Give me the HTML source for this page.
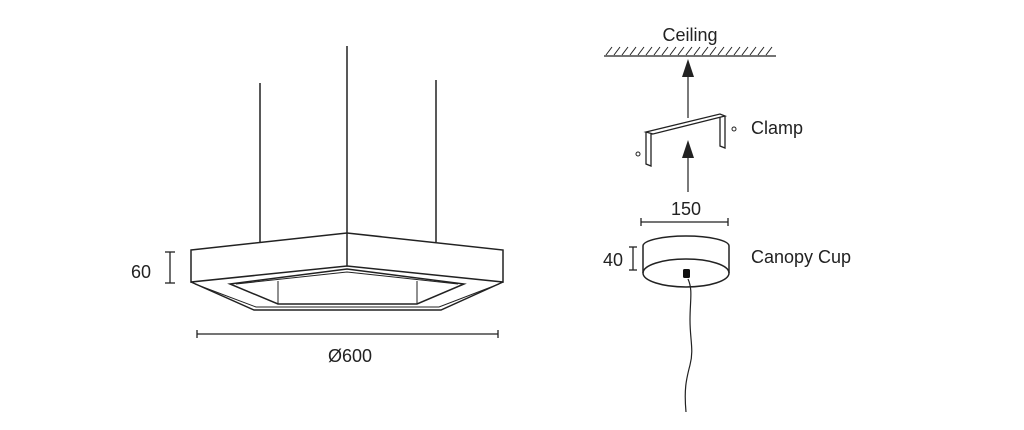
<!DOCTYPE html>
<html><head><style>body{margin:0;background:#fff}svg{display:block}text{font-family:"Liberation Sans",sans-serif;fill:#222}</style></head><body>
<svg width="1024" height="430" viewBox="0 0 1024 430" xmlns="http://www.w3.org/2000/svg">
<g stroke="#222" fill="none" stroke-width="1.5">
<line x1="260" y1="83" x2="260" y2="242"/>
<line x1="347" y1="46" x2="347" y2="233"/>
<line x1="436" y1="80" x2="436" y2="242"/>
<polygon points="191,250 347,233 503,250 503,282 347,266 191,282" fill="#fff"/>
<line x1="347" y1="233" x2="347" y2="266"/>
<path d="M191,282 L254,310 L441,310 L503,282"/>
<path d="M195,284 L256,307 L439,307 L499,284" stroke-width="1"/>
<path d="M230,284 L347,269 L464,284 L417,304 L278,304 Z"/>
<path d="M236,284 L347,272 L458,284" stroke-width="1"/>
<line x1="278" y1="281" x2="278" y2="304" stroke-width="1"/>
<line x1="417" y1="281" x2="417" y2="304" stroke-width="1"/>
<g stroke-width="1.3">
<line x1="170" y1="252" x2="170" y2="283"/><line x1="165" y1="252" x2="175" y2="252"/><line x1="165" y1="283" x2="175" y2="283"/>
<line x1="197" y1="334" x2="498" y2="334"/><line x1="197" y1="330" x2="197" y2="338"/><line x1="498" y1="330" x2="498" y2="338"/>
</g>
<line x1="604" y1="56" x2="776" y2="56" stroke-width="1.3"/>
<path d="M606,55 l6,-8 M614,55 l6,-8 M622,55 l6,-8 M630,55 l6,-8 M638,55 l6,-8 M646,55 l6,-8 M654,55 l6,-8 M662,55 l6,-8 M670,55 l6,-8 M678,55 l6,-8 M686,55 l6,-8 M694,55 l6,-8 M702,55 l6,-8 M710,55 l6,-8 M718,55 l6,-8 M726,55 l6,-8 M734,55 l6,-8 M742,55 l6,-8 M750,55 l6,-8 M758,55 l6,-8 M766,55 l6,-8" stroke-width="1"/>
<line x1="688" y1="118" x2="688" y2="72" stroke-width="1.2"/>
<line x1="688" y1="192" x2="688" y2="155" stroke-width="1.2"/>
<path d="M646,132 L720,114 L725,116 L653,134 Z M646,132 L646,164 L651,166 L651,134 M725,116 L725,148 L720,146 L720,117 M651,134 L653,134" stroke-width="1.3" fill="#fff"/>
<circle cx="638" cy="154" r="2" stroke-width="1"/><circle cx="734" cy="129" r="2" stroke-width="1"/>
<g stroke-width="1.3">
<line x1="641" y1="222" x2="728" y2="222"/><line x1="641" y1="218" x2="641" y2="226"/><line x1="728" y1="218" x2="728" y2="226"/>
<line x1="633" y1="247" x2="633" y2="270"/><line x1="629" y1="247" x2="637" y2="247"/><line x1="629" y1="270" x2="637" y2="270"/>
</g>
<path d="M643,246 A43,10 0 0 1 729,246 L729,273 A43,14 0 0 1 643,273 Z" fill="#fff"/>
<path d="M643,273 A43,14 0 0 1 729,273"/>
<path d="M688,279 C693,290 690,300 690,320 C690,340 694,350 690,365 C686,380 684,390 686,412" stroke-width="1.2"/>
</g>
<polygon points="688,59 682,77 694,77" fill="#222"/>
<polygon points="688,140 682,158 694,158" fill="#222"/>
<rect x="683" y="269" width="7" height="9" rx="1.5" fill="#111"/>
<text x="131" y="278" font-size="18">60</text>
<text x="350" y="362" font-size="18" text-anchor="middle">Ø600</text>
<text x="690" y="41" font-size="18" text-anchor="middle">Ceiling</text>
<text x="751" y="134" font-size="18">Clamp</text>
<text x="686" y="215" font-size="18" text-anchor="middle">150</text>
<text x="603" y="266" font-size="18">40</text>
<text x="751" y="263" font-size="18">Canopy Cup</text>
</svg>
</body></html>
